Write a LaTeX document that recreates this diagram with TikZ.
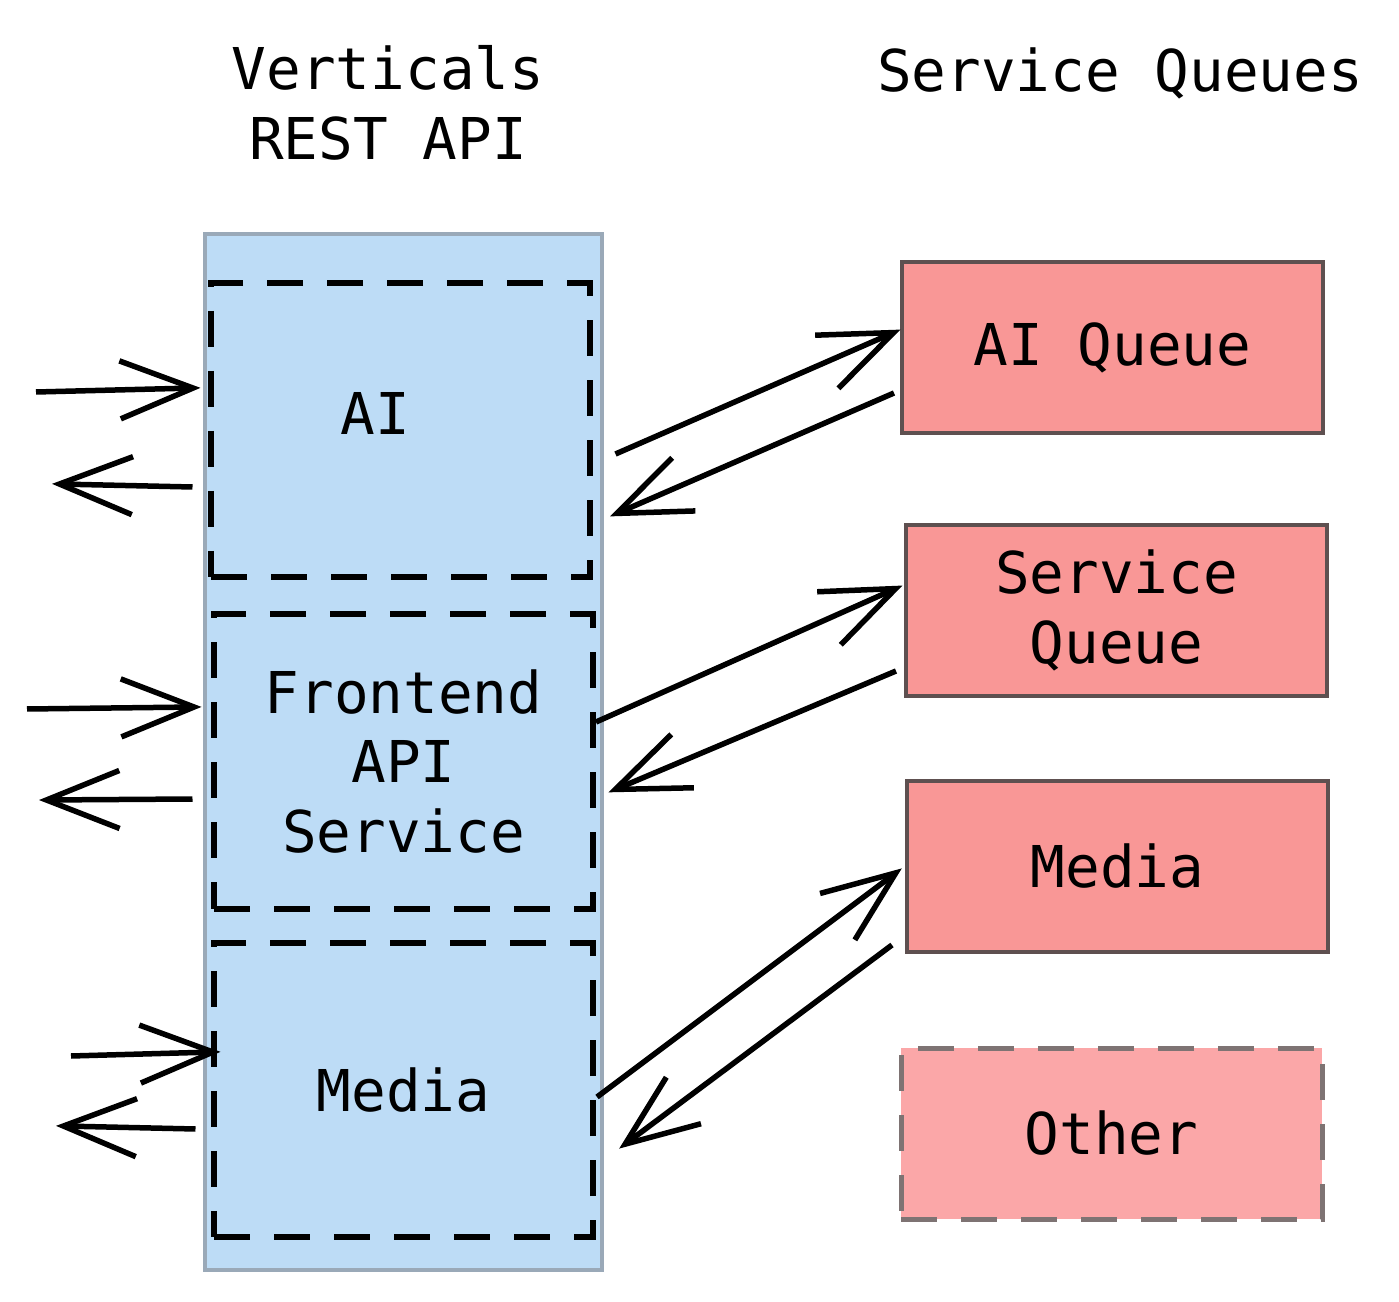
\documentclass[tikz,border=0pt]{standalone}
\usepackage{fontspec}
\setmainfont{DejaVu Sans Mono}
\usetikzlibrary{arrows.meta}

\definecolor{vertblue}{HTML}{BDDCF6}
\definecolor{vertedge}{HTML}{9AA9B8}
\definecolor{queuered}{HTML}{F99796}
\definecolor{otherred}{HTML}{FBA7A8}
\definecolor{queueedge}{HTML}{5E5050}

\tikzset{
    txt/.style={font=\fontsize{16.4}{19.9}\selectfont, align=center},
    vertbox/.style={draw=vertedge, line width=0.35mm, fill=vertblue, minimum width=3.97cm, minimum height=10.36cm},
    vertpart/.style={txt, draw=black, line width=0.6mm, dash pattern=on 3.6mm off 2.4mm, minimum width=3.79cm, minimum height=2.94cm},
    queuebox/.style={txt, draw=queueedge, line width=0.4mm, fill=queuered, minimum width=4.21cm, minimum height=1.71cm},
    otherbox/.style={txt, draw=queueedge!80, line width=0.5mm, dash pattern=on 3.6mm off 2.4mm, fill=otherred, minimum width=4.21cm, minimum height=1.71cm},
    barb/.style={-{Straight Barb[length=7.3mm,width=5.8mm,sep=-0.6mm]}, line width=0.55mm}
}

\begin{document}
\begin{tikzpicture}
    \useasboundingbox (0,0) rectangle (13.99,-13.02);

    % titles
    \node[txt] (vtitle) at (3.88,-1.03) {Verticals\\REST API};
    \node[txt] (qtitle) at (11.20,-0.73) {Service Queues};

    % verticals
    \node[vertbox] (vert) at (4.035,-7.52) {};
    \node[vertpart, label={[txt, xshift=-2.5mm, yshift=1.7mm]center:AI}] (ai) at (4.005,-4.30) {};
    \node[vertpart] (fe) at (4.035,-7.615) {Frontend\\API\\Service};
    \node[vertpart] (md) at (4.035,-10.90) {Media};

    % queues
    \node[queuebox] (aiq) at (11.125,-3.475) {AI Queue};
    \node[queuebox] (svq) at (11.165,-6.105) {Service\\Queue};
    \node[queuebox] (mdq) at (11.175,-8.665) {Media};
    \node[otherbox] (oth) at (11.115,-11.335) {Other};

    % free ends on the left
    \coordinate (ai-src) at (0.36,-3.92);
    \coordinate (ai-dst) at (0.58,-4.84);
    \coordinate (fe-src) at (0.27,-7.09);
    \coordinate (fe-dst) at (0.45,-8.00);
    \coordinate (md-src) at (0.71,-10.56);
    \coordinate (md-dst) at (0.62,-11.26);

    \draw[barb] (ai-src) -- ([xshift=-1.35mm,yshift=4.2mm]ai.west);
    \draw[barb] ([xshift=-1.55mm,yshift=-5.7mm]ai.west) -- (ai-dst);
    \draw[barb] (fe-src) -- ([xshift=-1.55mm,yshift=5.45mm]fe.west);
    \draw[barb] ([xshift=-1.85mm,yshift=-3.75mm]fe.west) -- (fe-dst);
    \draw[barb] (md-src) -- ([xshift=0.35mm,yshift=3.8mm]md.west);
    \draw[barb] ([xshift=-1.55mm,yshift=-3.9mm]md.west) -- (md-dst);

    % verticals <-> queues
    \draw[barb] ([xshift=2.25mm,yshift=-2.4mm]ai.east) -- ([xshift=-0.5mm,yshift=1.55mm]aiq.west);
    \draw[barb] ([xshift=-0.6mm,yshift=-4.55mm]aiq.west) -- ([xshift=2.25mm,yshift=-8.4mm]ai.east);
    \draw[barb] ([yshift=3.95mm]fe.east) -- ([xshift=-0.7mm,yshift=2.25mm]svq.west);
    \draw[barb] ([xshift=-0.8mm,yshift=-6.05mm]svq.west) -- ([xshift=1.8mm,yshift=-2.85mm]fe.east);
    \draw[barb] ([xshift=0.1mm,yshift=-0.7mm]md.east) -- ([xshift=-0.8mm,yshift=-0.55mm]mdq.west);
    \draw[barb] ([xshift=-1.3mm,yshift=-7.85mm]mdq.west) -- ([xshift=2.8mm,yshift=-5.5mm]md.east);
\end{tikzpicture}
\end{document}
